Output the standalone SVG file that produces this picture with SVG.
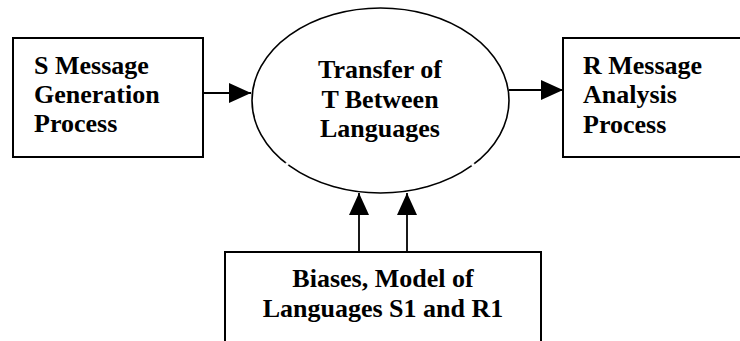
<svg xmlns="http://www.w3.org/2000/svg" width="740" height="341" viewBox="0 0 740 341">
  <style>
    .box { fill: #ffffff; stroke: #000000; stroke-width: 2; }
    .oval { fill: #ffffff; stroke: #000000; stroke-width: 1.6; }
    .label { font-family: "Liberation Serif", "Times New Roman", serif; font-weight: bold; font-size: 26px; fill: #000000; }
    .mid { text-anchor: middle; }
    .link { stroke: #000000; stroke-width: 1.8; fill: none; marker-end: url(#head); }
  </style>
  <defs>
    <marker id="head" markerUnits="userSpaceOnUse" markerWidth="22" markerHeight="20" refX="22" refY="10" orient="auto">
      <path d="M0,0 L22,10 L0,20 Z" fill="#000000"/>
    </marker>
  </defs>
  <rect width="740" height="341" fill="#ffffff"/>

  <g id="sender">
    <rect class="box" x="13" y="38" width="190" height="119"/>
    <text class="label" x="34" y="73.5">S Message</text>
    <text class="label" x="34" y="102.5">Generation</text>
    <text class="label" x="34" y="131.5">Process</text>
  </g>

  <g id="transfer">
    <ellipse class="oval" cx="380.5" cy="100.5" rx="128.5" ry="92.5"/>
    <!-- small breaks in the outline -->
    <circle cx="287" cy="164" r="1.8" fill="#ffffff"/>
    <circle cx="473" cy="164.7" r="1.8" fill="#ffffff"/>
    <text class="label mid" x="380" y="78">Transfer of</text>
    <text class="label mid" x="380" y="107.5">T Between</text>
    <text class="label mid" x="380" y="137">Languages</text>
  </g>

  <g id="receiver">
    <rect class="box" x="563" y="38" width="200" height="119"/>
    <text class="label" x="583" y="73.5">R Message</text>
    <text class="label" x="583" y="103">Analysis</text>
    <text class="label" x="583" y="132.5">Process</text>
  </g>

  <g id="models">
    <rect class="box" x="225" y="252" width="316" height="110"/>
    <text class="label mid" x="383" y="287">Biases, Model of</text>
    <text class="label mid" x="383" y="317">Languages S1 and R1</text>
  </g>

  <g id="connectors">
    <line class="link" x1="203" y1="93" x2="251" y2="93"/>
    <line class="link" x1="509" y1="90" x2="563" y2="90"/>
    <line class="link" x1="359" y1="252" x2="359" y2="193"/>
    <line class="link" x1="407" y1="252" x2="407" y2="193"/>
  </g>
</svg>
